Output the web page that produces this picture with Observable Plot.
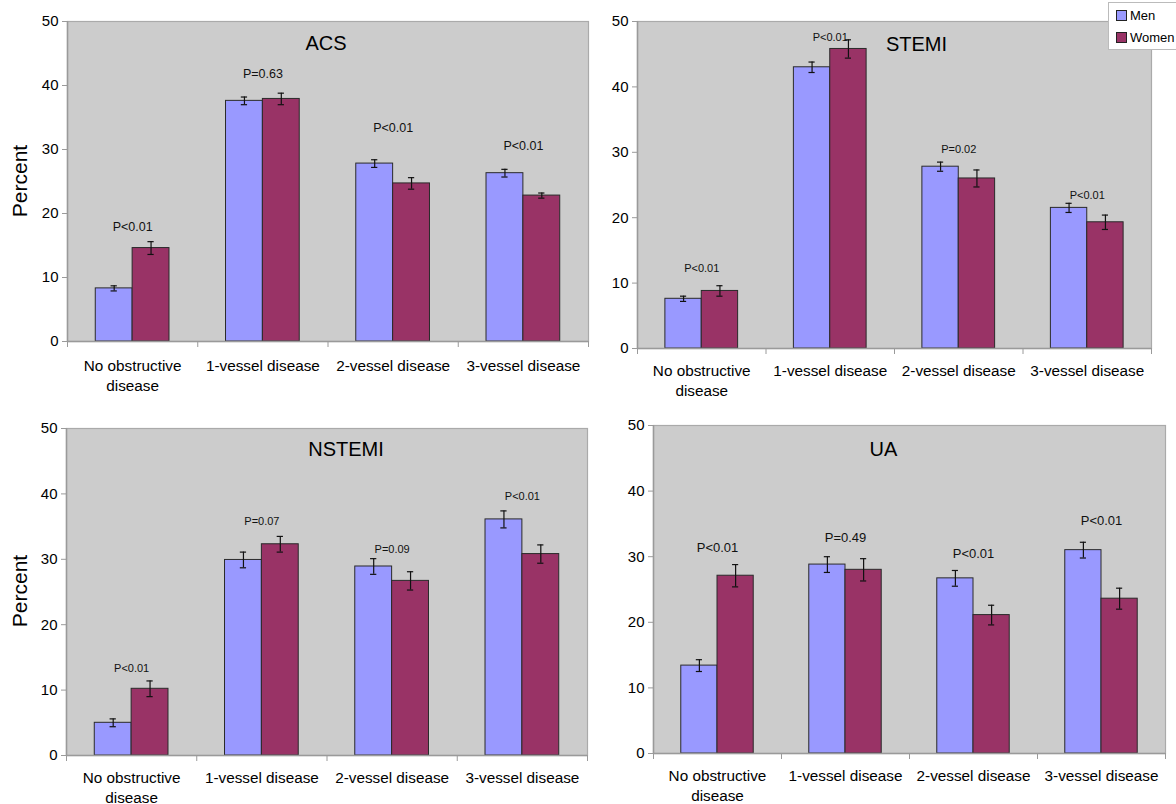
<!DOCTYPE html>
<html>
<head>
<meta charset="utf-8">
<script src="https://cdn.jsdelivr.net/npm/d3@7"></script>
<script src="https://cdn.jsdelivr.net/npm/@observablehq/plot@0.6"></script>
<style>
  html, body { margin: 0; padding: 0; background: #fff; overflow: hidden; width: 1176px; height: 804px; }
  body { position: relative; font-family: "Liberation Sans", Arial, sans-serif; }
  .panel { position: absolute; }
  .legend { position: absolute; left: 1108px; top: 2px; width: 90px; height: 46px; background: #fff;
            border: 1px solid #bbb; font-size: 13px; color: #000; }
  .legend .row { position: absolute; left: 7px; display: flex; align-items: center; }
  .legend .sw { width: 9px; height: 9px; border: 1px solid #222; margin-right: 3px; }
</style>
</head>
<body>
<div id="root"></div>
<script>
// ---- data ----
const categories = ["No obstructive\ndisease", "1-vessel disease", "2-vessel disease", "3-vessel disease"];
const series = ["Men", "Women"];
const yTicks = [0, 10, 20, 30, 40, 50];

const acsMen = [8.3, 37.6, 27.8, 26.3];
const acsWomen = [14.6, 37.9, 24.7, 22.8];
const acsMenErr = [0.4, 0.6, 0.6, 0.6];
const acsWomenErr = [1.0, 0.9, 0.9, 0.4];
const acsP = ["P<0.01", "P=0.63", "P<0.01", "P<0.01"];
const acsPAt = [17.9, 41.8, 33.3, 30.5];

const stemiMen = [7.6, 43.0, 27.8, 21.5];
const stemiWomen = [8.8, 45.8, 26.0, 19.3];
const stemiMenErr = [0.4, 0.8, 0.7, 0.7];
const stemiWomenErr = [0.8, 1.4, 1.3, 1.1];
const stemiP = ["P<0.01", "P<0.01", "P=0.02", "P<0.01"];
const stemiPAt = [12.2, 47.5, 30.4, 23.4];

const nstemiMen = [5.0, 29.9, 28.9, 36.1];
const nstemiWomen = [10.2, 32.3, 26.7, 30.8];
const nstemiMenErr = [0.6, 1.2, 1.2, 1.3];
const nstemiWomenErr = [1.2, 1.2, 1.4, 1.4];
const nstemiP = ["P<0.01", "P=0.07", "P=0.09", "P<0.01"];
const nstemiPAt = [13.3, 35.8, 31.5, 39.6];

const uaMen = [13.4, 28.8, 26.7, 31.0];
const uaWomen = [27.1, 28.0, 21.1, 23.6];
const uaMenErr = [0.9, 1.2, 1.2, 1.2];
const uaWomenErr = [1.7, 1.7, 1.5, 1.6];
const uaP = ["P<0.01", "P=0.49", "P<0.01", "P<0.01"];
const uaPAt = [31.3, 32.9, 30.5, 35.5];

const colors = {Men: "#9999ff", Women: "#993366"};

function rows(men, women, menErr, womenErr) {
  const out = [];
  categories.forEach((c, i) => {
    out.push({i, cat: c, sex: "Men", v: men[i], e: menErr[i], side: -1});
    out.push({i, cat: c, sex: "Women", v: women[i], e: womenErr[i], side: 1});
  });
  return out;
}

function panel(cfg) {
  const data = rows(cfg.men, cfg.women, cfg.menErr, cfg.womenErr);
  const pdata = categories.map((c, i) => ({i, label: cfg.p[i], at: cfg.pAt[i]}));
  const bw = 0.283;     // bar width in category units
  const cap = 0.024;    // half width of error cap
  const axisGray = "#9a9a9a";
  const chart = Plot.plot({
    width: cfg.width, height: cfg.height,
    marginLeft: cfg.ml, marginRight: cfg.mr, marginTop: cfg.mt, marginBottom: cfg.mb,
    style: {fontFamily: "Liberation Sans, Arial, sans-serif", background: "transparent", overflow: "visible"},
    x: {domain: [-0.5, 3.5], axis: null},
    y: {domain: [0, 50], axis: null},
    marks: [
      Plot.frame({fill: "#cccccc", stroke: "#aaaaaa", strokeWidth: 1.2}),
      Plot.rectY(data, {
        x1: d => d.side < 0 ? d.i - bw : d.i,
        x2: d => d.side < 0 ? d.i : d.i + bw,
        y1: 0, y2: "v",
        fill: d => colors[d.sex], stroke: "#2a2a2a", strokeWidth: 1
      }),
      Plot.ruleX(data, {x: d => d.i + d.side * bw / 2, y1: d => d.v - d.e, y2: d => d.v + d.e, stroke: "#111", strokeWidth: 1.2}),
      Plot.ruleY(data, {y: d => d.v - d.e, x1: d => d.i + d.side * bw / 2 - cap, x2: d => d.i + d.side * bw / 2 + cap, stroke: "#111", strokeWidth: 1.2}),
      Plot.ruleY(data, {y: d => d.v + d.e, x1: d => d.i + d.side * bw / 2 - cap, x2: d => d.i + d.side * bw / 2 + cap, stroke: "#111", strokeWidth: 1.2}),
      // axes lines
      Plot.ruleX([-0.5], {stroke: axisGray, strokeWidth: 1.5}),
      Plot.ruleY([0], {stroke: axisGray, strokeWidth: 1.5}),
      Plot.axisY({ticks: yTicks, tickSize: 5, tickPadding: 4, stroke: axisGray, fontSize: 15, fill: "#000", label: null}),
      Plot.axisX({ticks: [-0.5, 0.5, 1.5, 2.5, 3.5], tickSize: 6, tickFormat: () => "", stroke: axisGray, label: null}),
      Plot.axisX({ticks: [0, 1, 2, 3], tickSize: 0, tickPadding: cfg.catPad, tickFormat: i => categories[i], fontSize: 15.3, fill: "#000", label: null, lineHeight: 1.3}),
      Plot.text(pdata, {x: "i", y: "at", text: "label", fontSize: cfg.pSize, fill: "#111"}),
      Plot.text([cfg.title], {frameAnchor: "top", dx: cfg.titleDx, dy: cfg.titleDy, fontSize: 20, fill: "#000", text: d => d, lineAnchor: "top"})
    ]
  });
  const div = document.createElement("div");
  div.className = "panel";
  div.style.left = cfg.left + "px";
  div.style.top = cfg.top + "px";
  div.appendChild(chart);
  if (cfg.ylabel) {
    const lab = document.createElement("div");
    lab.textContent = "Percent";
    lab.style.cssText = `position:absolute;left:${cfg.ylabelX}px;top:${cfg.ylabelY}px;transform:translate(-50%,-50%) rotate(-90deg);font-size:21px;white-space:nowrap;color:#000;`;
    div.appendChild(lab);
  }
  document.getElementById("root").appendChild(div);
}

panel({title: "ACS", men: acsMen, women: acsWomen, menErr: acsMenErr, womenErr: acsWomenErr, p: acsP, pAt: acsPAt,
  left: 0, top: 0, width: 600, height: 402, ml: 67, mr: 12, mt: 21, mb: 61, catPad: 15, pSize: 12.5,
  titleDx: -2, titleDy: 14, ylabel: true, ylabelX: 20, ylabelY: 181});
panel({title: "STEMI", men: stemiMen, women: stemiWomen, menErr: stemiMenErr, womenErr: stemiWomenErr, p: stemiP, pAt: stemiPAt,
  left: 590, top: 0, width: 586, height: 404, ml: 47, mr: 25, mt: 21, mb: 56, catPad: 13, pSize: 11,
  titleDx: 22, titleDy: 15, ylabel: false});
panel({title: "NSTEMI", men: nstemiMen, women: nstemiWomen, menErr: nstemiMenErr, womenErr: nstemiWomenErr, p: nstemiP, pAt: nstemiPAt,
  left: 0, top: 410, width: 600, height: 394, ml: 66, mr: 13, mt: 18, mb: 49, catPad: 13, pSize: 11,
  titleDx: 19, titleDy: 13, ylabel: true, ylabelX: 20, ylabelY: 181});
panel({title: "UA", men: uaMen, women: uaWomen, menErr: uaMenErr, womenErr: uaWomenErr, p: uaP, pAt: uaPAt,
  left: 590, top: 410, width: 586, height: 394, ml: 63, mr: 11, mt: 15, mb: 51, catPad: 13, pSize: 13,
  titleDx: -26, titleDy: 16, ylabel: false});

// legend
const leg = document.createElement("div");
leg.className = "legend";
series.forEach((s, k) => {
  const r = document.createElement("div");
  r.className = "row";
  r.style.top = (k === 0 ? 5 : 27) + "px";
  const sw = document.createElement("div");
  sw.className = "sw";
  sw.style.background = colors[s];
  const t = document.createElement("span");
  t.textContent = s;
  r.appendChild(sw); r.appendChild(t);
  leg.appendChild(r);
});
document.body.appendChild(leg);
</script>
</body>
</html>
